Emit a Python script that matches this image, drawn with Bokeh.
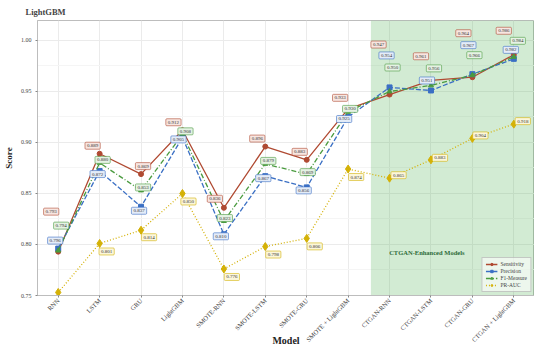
import math
from bokeh.plotting import figure
from bokeh.models import (Range1d, FixedTicker, PrintfTickFormatter, BoxAnnotation,
                          Legend, LegendItem, Label)
from bokeh.core.properties import value
from bokeh.embed import file_html
from bokeh.resources import INLINE

# ---------------- data ----------------
models = ["RNN", "LSTM", "GRU", "LightGBM", "SMOTE-RNN", "SMOTE-LSTM", "SMOTE-GRU",
          "SMOTE + LightGBM", "CTGAN-RNN", "CTGAN-LSTM", "CTGAN-GRU", "CTGAN + LightGBM"]
sensitivity = [0.793, 0.889, 0.869, 0.912, 0.836, 0.896, 0.883, 0.933, 0.947, 0.961, 0.964, 0.986]
precision   = [0.796, 0.872, 0.837, 0.905, 0.810, 0.867, 0.856, 0.925, 0.954, 0.951, 0.967, 0.982]
f1_measure  = [0.794, 0.880, 0.853, 0.908, 0.823, 0.879, 0.869, 0.930, 0.950, 0.956, 0.966, 0.984]
pr_auc      = [0.753, 0.801, 0.814, 0.850, 0.776, 0.798, 0.806, 0.874, 0.865, 0.883, 0.904, 0.918]
y_ticks = [0.75, 0.80, 0.85, 0.90, 0.95, 1.00]
series_names = ["Sensitivity", "Precision", "F1-Measure", "PR-AUC"]

# ---------------- layout / style (label offsets in screen pixels, +down) ----------------
lab_dx = {
    "Sensitivity": [-7, -7, 2, -9, -9, -8, -7, -8, -11, -10, -9, -10],
    "Precision":   [-3, -2, -2, -4, -3, -2, -3, -4, -3, -4, -4, -3],
    "F1-Measure":  [3, 3, 2, 3, 1, 3, 1, 2, 3, 3, 2, 4],
    "PR-AUC":      [8, 7, 8, 6, 8, 8, 8, 8, 9, 9, 8, 9],
}
lab_dy = {
    "Sensitivity": [-40, -8, -8, -8, -9, -8, -8, -11, -50, -24, -44, -24],
    "Precision":   [-8, 3, 4, 2, 2, 2, 3, 2, -32, -10, -29, -9],
    "F1-Measure":  [-25, -3, -3, -3, -3, -3, -2, -3, -24, -17, -20, -16],
    "PR-AUC":      [7, 8, 7, 8, 8, 8, 8, 8, -3, -2, -3, -3],
}
styles = {
    "Sensitivity": dict(color="#B04A32", tint="#F7E6E1", dash="solid", marker="circle", size=5),
    "Precision":   dict(color="#3A6FC4", tint="#E4ECF8", dash="5 2", marker="square", size=5),
    "F1-Measure":  dict(color="#4A9B3F", tint="#E5F2E3", dash="5 2 1 2", marker="triangle", size=5),
    "PR-AUC":      dict(color="#D4B106", tint="#FBF6DA", dash="1 2", marker="diamond", size=8),
}
values = {"Sensitivity": sensitivity, "Precision": precision,
          "F1-Measure": f1_measure, "PR-AUC": pr_auc}

SERIF = "Liberation Serif"
xs = list(range(len(models)))

p = figure(width=534, height=348, output_backend="svg", toolbar_location=None,
           x_range=Range1d(-0.5, 11.5), y_range=Range1d(0.75, 1.0196),
           title="LightGBM", min_border_left=8, min_border_right=0,
           min_border_top=0, min_border_bottom=0)
p.background_fill_color = "white"
p.border_fill_color = "white"
p.outline_line_color = "#BDBDBD"
p.outline_line_width = 1

p.title.text_font = SERIF
p.title.text_font_size = "8.5px"
p.title.text_font_style = "bold"
p.title.align = "left"
p.title.offset = -12
p.title.standoff = 8

# shaded CTGAN region
p.add_layout(BoxAnnotation(left=7.55, right=11.5, fill_color="#4CAF50", fill_alpha=0.25,
                           line_color=None, level="underlay"))

# grid
p.xgrid.grid_line_color = "#EBEBEB"
p.ygrid.grid_line_color = "#EBEBEB"
p.ygrid.minor_grid_line_color = "#F5F5F5"

# axes
p.xaxis.ticker = FixedTicker(ticks=xs)
p.xaxis.major_label_overrides = {i: m for i, m in enumerate(models)}
p.xaxis.major_label_orientation = math.pi / 4
p.yaxis.ticker = FixedTicker(ticks=y_ticks, minor_ticks=[0.775, 0.825, 0.875, 0.925, 0.975])
p.yaxis.formatter = PrintfTickFormatter(format="%.2f")
for ax in (p.xaxis[0], p.yaxis[0]):
    ax.major_label_text_font = SERIF
    ax.major_label_text_font_size = "6px"
    ax.major_label_text_color = "#444444"
    ax.axis_label_text_font = SERIF
    ax.axis_label_text_font_style = "bold"
    ax.axis_label_text_color = "#222222"
    ax.axis_line_color = "#BDBDBD"
    ax.major_tick_line_color = "#888888"
    ax.major_tick_out = 2
    ax.major_tick_in = 0
    ax.minor_tick_line_color = None
    ax.major_label_standoff = 2
p.xaxis.major_label_text_font_size = "6.5px"
p.xaxis.axis_label = "Model"
p.xaxis.axis_label_text_font_size = "10px"
p.xaxis.axis_label_standoff = -14
p.yaxis.axis_label = "Score"
p.yaxis.axis_label_text_font_size = "9px"
p.yaxis.axis_label_standoff = 4

# series
items = []
for name in series_names:
    st = styles[name]
    vals = values[name]
    ln = p.line(xs, vals, line_color=st["color"], line_width=1.3, line_dash=st["dash"])
    mk = p.scatter(xs, vals, marker=st["marker"], size=st["size"], fill_color=st["color"],
                   line_color=st["color"])
    items.append(LegendItem(label=name, renderers=[ln, mk]))

# value labels
for name in series_names:
    st = styles[name]
    vals = values[name]
    p.text(x=xs, y=vals, text=[f"{v:.3f}" for v in vals],
           x_offset=lab_dx[name], y_offset=lab_dy[name],
           text_font=value(SERIF), text_font_size="5px", text_color="#333333",
           text_align="center", text_baseline="middle",
           background_fill_color=st["tint"], border_line_color=st["color"],
           border_line_width=0.6, padding=2, border_radius=1)

p.add_layout(Label(x=8.9, y=0.792, text="CTGAN-Enhanced Models", text_font=SERIF,
                   text_font_size="6.5px", text_font_style="bold", text_color="#2E6B3A",
                   text_align="center", text_baseline="middle"))

legend = Legend(items=items, location="bottom_right")
legend.label_text_font = SERIF
legend.label_text_font_size = "5.5px"
legend.label_height = 6
legend.glyph_height = 6
legend.glyph_width = 12
legend.label_standoff = 3
legend.spacing = 1
legend.padding = 3
legend.margin = 3
legend.border_line_color = "#999999"
legend.background_fill_alpha = 0.6
p.add_layout(legend)

open("out.html", "w").write(file_html(p, INLINE))
